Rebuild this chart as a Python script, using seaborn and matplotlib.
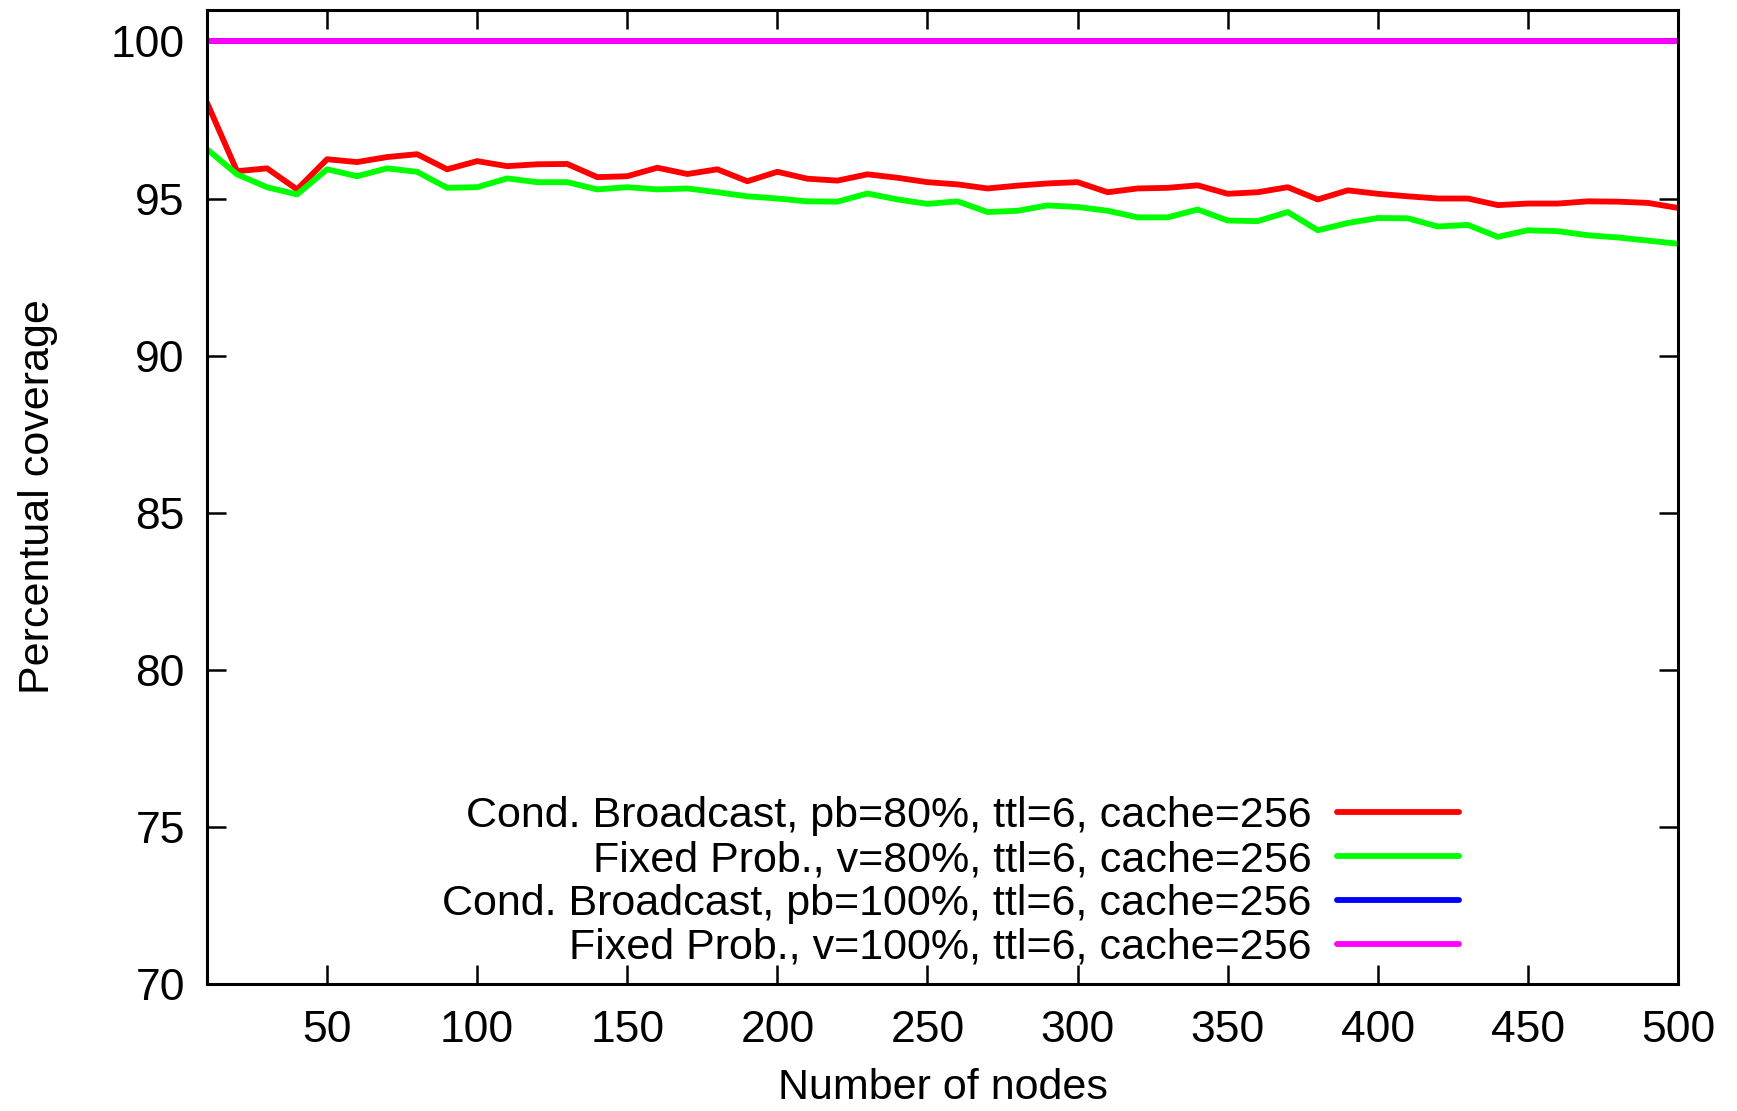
import numpy as np
import pandas as pd
import matplotlib
matplotlib.use("Agg")
import matplotlib.pyplot as plt
import seaborn as sns

nodes = list(range(10, 501, 10))
cond_80 = [98.05, 95.87, 95.96, 95.29, 96.25, 96.16, 96.32, 96.41, 95.93, 96.19,
           96.03, 96.09, 96.10, 95.68, 95.71, 95.98, 95.78, 95.93, 95.55, 95.85,
           95.63, 95.57, 95.77, 95.66, 95.52, 95.45, 95.32, 95.41, 95.48, 95.52,
           95.20, 95.32, 95.34, 95.42, 95.15, 95.20, 95.36, 94.97, 95.26, 95.15,
           95.07, 95.00, 95.00, 94.79, 94.84, 94.84, 94.91, 94.90, 94.86, 94.70]
fixed_80 = [96.57, 95.77, 95.36, 95.13, 95.93, 95.71, 95.96, 95.85, 95.34, 95.36,
            95.64, 95.52, 95.52, 95.29, 95.36, 95.29, 95.32, 95.20, 95.07, 95.00,
            94.91, 94.90, 95.16, 94.97, 94.83, 94.91, 94.57, 94.61, 94.78, 94.73,
            94.61, 94.40, 94.40, 94.65, 94.30, 94.28, 94.57, 93.99, 94.22, 94.38,
            94.37, 94.11, 94.16, 93.78, 93.99, 93.96, 93.83, 93.76, 93.66, 93.56]
cond_100 = [100.0] * 50
fixed_100 = [100.0] * 50

labels = ["Cond. Broadcast, pb=80%, ttl=6, cache=256",
          "Fixed Prob., v=80%, ttl=6, cache=256",
          "Cond. Broadcast, pb=100%, ttl=6, cache=256",
          "Fixed Prob., v=100%, ttl=6, cache=256"]
colors = ["#ff0000", "#00ff00", "#0000ff", "#ff00ff"]
x_ticks = [50, 100, 150, 200, 250, 300, 350, 400, 450, 500]
y_ticks = [70, 75, 80, 85, 90, 95, 100]

series = [cond_80, fixed_80, cond_100, fixed_100]
df = pd.concat([pd.DataFrame({"nodes": nodes, "coverage": s, "series": lab})
                for s, lab in zip(series, labels)], ignore_index=True)

sns.set_theme(style="white")
plt.rcParams["font.family"] = ["Liberation Sans", "DejaVu Sans"]
plt.rcParams["text.color"] = "black"
plt.rcParams["axes.labelcolor"] = "black"

fig = plt.figure(figsize=(17.37, 11.11), dpi=100)
ax = fig.add_axes([207/1737, 1 - 984/1111, (1678-207)/1737, (984-10)/1111])

sns.lineplot(data=df, x="nodes", y="coverage", hue="series", hue_order=labels,
             palette=colors, linewidth=4.2, ax=ax, legend=True)

ax.set_xlim(10, 500)
ax.set_ylim(70, 101)
ax.set_xticks(x_ticks)
ax.set_yticks(y_ticks)
ax.tick_params(axis="both", direction="in", length=14, width=1.8, colors="black",
               labelsize=32, top=True, right=True, bottom=True, left=True)
ax.tick_params(axis="x", pad=19)
ax.tick_params(axis="y", pad=16)
for sp in ax.spines.values():
    sp.set_color("black")
    sp.set_linewidth(2.2)
    sp.set_visible(True)

ax.set_xlabel("Number of nodes", fontsize=31, labelpad=12)
ax.set_ylabel("Percentual coverage", fontsize=31, labelpad=38)

handles, labs = ax.get_legend_handles_labels()
leg = ax.legend(handles, labs, loc="lower right",
                bbox_to_anchor=(1459/1737, 1 - 968/1111), bbox_transform=fig.transFigure,
                frameon=False, markerfirst=False, alignment="right",
                fontsize=31, handlelength=2.84, handletextpad=0.58,
                labelspacing=0.09, borderpad=0, borderaxespad=0)
for t in leg.get_texts():
    t.set_ha("right")

fig.savefig("out.png", dpi=100)
